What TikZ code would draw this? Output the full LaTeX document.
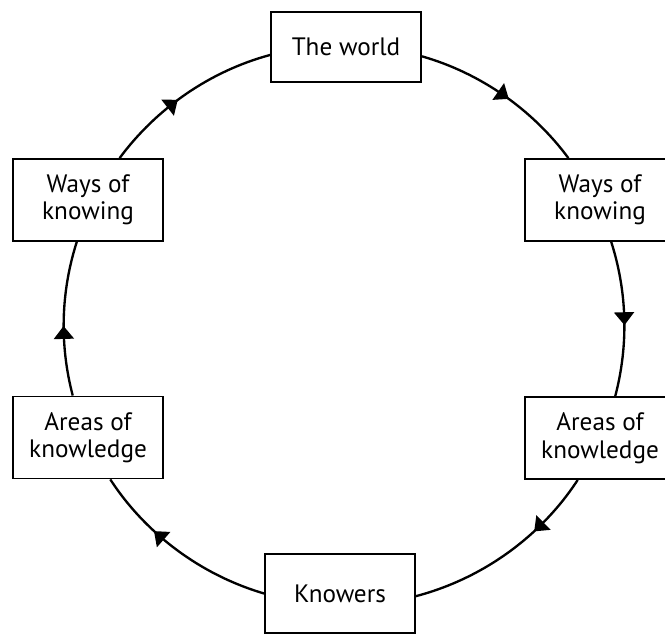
\documentclass[tikz,border=0pt]{standalone}
\usepackage{fontspec}
\setmainfont{PT Sans}
\usetikzlibrary{positioning}
\usetikzlibrary{arrows.meta}
\usetikzlibrary{decorations.markings}
\tikzset{%
	% Specifications for style of nodes:
	base/.style = {rectangle, draw=black, line width=1.6pt, fill=white,
		inner sep=2pt, minimum width=4.5cm,
		text centered, align=center, font=\fontsize{21.5pt}{23.5pt}\selectfont},
	oneLine/.style = {base, minimum height=2.12cm},
	knowerBox/.style = {base, minimum height=2.36cm},
	twoLines/.style = {base, minimum height=2.46cm},
	% arcs of the cycle, arrow head at position #1
	cycleArc/.style = {line width=2pt, looseness=0.875, postaction={decorate},
		decoration={markings, mark=at position #1 with {\arrow[xshift=5.5pt]{Triangle[length=11pt, width=17pt]}}}}
}
\begin{document}
\begin{tikzpicture}[x=0.03cm, y=0.03cm]
		\useasboundingbox (0,0) rectangle (665,635);
		%% Nodes round the circle
		\node [oneLine] (world) at (346,588) {The world};
		\node [twoLines] (rWays) at (600,435) {Ways of\\knowing};
		\node [twoLines] (rAreas) at (600,197) {Areas of\\knowledge};
		\node [knowerBox] (knowers) at (340,41.5) {Knowers};
		\node [twoLines] (lAreas) at (88,197.5) {Areas of\\knowledge};
		\node [twoLines] (lWays) at (88,435) {Ways of\\knowing};
		%% Arcs, clockwise
		\draw [cycleArc=0.5] (world.-7.4) to[out=-16, in=126.6] (rWays.127.3);
		\draw [cycleArc=0.5] (rWays.-75.2) to[out=-72.3, in=75.3] (rAreas.70);
		\draw [cycleArc=0.3] (rAreas.242.3) to[out=-123.1, in=14.7] (knowers.-2.6);
		\draw [cycleArc=0.62] (knowers.180.8) to[out=163.6, in=303.1] (lAreas.-62.3);
		\draw [cycleArc=0.41] (lAreas.110) to[out=104.7, in=252.3] (lWays.255.2);
		\draw [cycleArc=0.41] (lWays.53.1) to[out=53.4, in=195.1] (world.186.6);
	\end{tikzpicture}
\end{document}
